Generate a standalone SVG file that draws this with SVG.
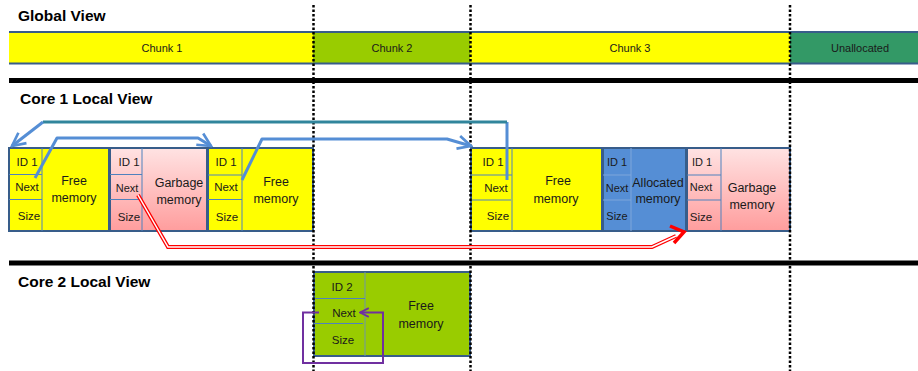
<svg xmlns="http://www.w3.org/2000/svg" width="918" height="371" viewBox="0 0 918 371">
<style>
.title{font-family:"Liberation Sans",Arial,sans-serif;font-weight:bold;font-size:15.5px;fill:#000}
.lbl{font-family:"Liberation Sans",Arial,sans-serif;font-size:11px;fill:#1a1a1a;text-anchor:middle}
.cell{font-family:"Liberation Sans",Arial,sans-serif;font-size:11.5px;fill:#1a1a1a;text-anchor:middle}
.big{font-family:"Liberation Sans",Arial,sans-serif;font-size:12.5px;fill:#1a1a1a;text-anchor:middle}
.outer{stroke:#385d8a;stroke-width:2}
.div{stroke:#4f81bd;stroke-width:1;fill:none}
.sep{stroke:#000;stroke-width:5}
.dot{stroke:#000;stroke-width:2.5;stroke-dasharray:2.5 2;fill:none}
.blue{stroke:#558ed5;stroke-width:3;fill:none}
</style>
<defs>
<linearGradient id="pink" x1="0" y1="0" x2="0" y2="1">
<stop offset="0" stop-color="#ffe3e3"/>
<stop offset="1" stop-color="#ff9d9d"/>
</linearGradient>
<marker id="ah" viewBox="0 0 10 10" refX="9" refY="5" markerWidth="5.5" markerHeight="5.5" markerUnits="strokeWidth" orient="auto">
<path d="M1,1 L9,5 L1,9" fill="none" stroke="#558ed5" stroke-width="1.6"/>
</marker>
<marker id="ap" viewBox="0 0 10 10" refX="9" refY="5" markerWidth="5.5" markerHeight="5.5" markerUnits="strokeWidth" orient="auto">
<path d="M1,1 L9,5 L1,9" fill="none" stroke="#7030a0" stroke-width="1.6"/>
</marker>
</defs>
<rect width="918" height="371" fill="#fff"/>

<g id="global">
<text class="title" x="18" y="21">Global View</text>
<rect x="9" y="32" width="304" height="31" fill="#ffff00"/>
<rect x="313" y="32" width="157" height="31" fill="#99cc00"/>
<rect x="470" y="32" width="320" height="31" fill="#ffff00"/>
<rect x="790" y="32" width="128" height="31" fill="#339966"/>
<line x1="9" y1="32" x2="918" y2="32" class="outer"/>
<line x1="9" y1="63.5" x2="918" y2="63.5" class="outer"/>
<text class="lbl" x="162" y="52">Chunk 1</text>
<text class="lbl" x="392" y="52">Chunk 2</text>
<text class="lbl" x="630" y="52">Chunk 3</text>
<text class="lbl" x="860" y="52">Unallocated</text>
</g>

<line x1="9" y1="80.5" x2="918" y2="80.5" class="sep"/>
<line x1="9" y1="263" x2="918" y2="263" class="sep"/>
<text class="title" x="20" y="104">Core 1 Local View</text>
<text class="title" x="18" y="287">Core 2 Local View</text>

<g id="block1">
<rect x="9" y="148" width="100" height="83" fill="#ffff00" class="outer"/>
<line x1="42" y1="148" x2="42" y2="231" class="div"/>
<line x1="9" y1="174.5" x2="42" y2="174.5" class="div"/>
<line x1="9" y1="199.5" x2="42" y2="199.5" class="div"/>
<text class="cell" x="27" y="166">ID 1</text>
<text class="cell" x="27" y="191">Next</text>
<text class="cell" x="29" y="220">Size</text>
<text class="big" x="74" y="185">Free</text>
<text class="big" x="74" y="202">memory</text>
</g>

<g id="block2">
<rect x="110" y="148" width="97" height="83" fill="url(#pink)" class="outer"/>
<line x1="142" y1="148" x2="142" y2="231" class="div"/>
<line x1="110" y1="174.5" x2="142" y2="174.5" class="div"/>
<line x1="110" y1="199.5" x2="142" y2="199.5" class="div"/>
<text class="cell" x="129" y="166">ID 1</text>
<text class="lbl" x="127" y="192">Next</text>
<text class="cell" x="129" y="221">Size</text>
<text class="big" x="179" y="187">Garbage</text>
<text class="big" x="179" y="204">memory</text>
</g>

<g id="block3">
<rect x="208" y="148" width="105" height="83" fill="#ffff00" class="outer"/>
<line x1="242" y1="148" x2="242" y2="231" class="div"/>
<line x1="208" y1="175" x2="242" y2="175" class="div"/>
<line x1="208" y1="199.5" x2="242" y2="199.5" class="div"/>
<text class="cell" x="226" y="166">ID 1</text>
<text class="cell" x="226" y="191">Next</text>
<text class="cell" x="227" y="221">Size</text>
<text class="big" x="276" y="186">Free</text>
<text class="big" x="276" y="203">memory</text>
</g>

<g id="block4">
<rect x="471" y="148" width="131" height="83" fill="#ffff00" class="outer"/>
<line x1="512" y1="148" x2="512" y2="231" class="div"/>
<line x1="471" y1="175" x2="512" y2="175" class="div"/>
<line x1="471" y1="200" x2="511" y2="200" class="div"/>
<text class="cell" x="493" y="166">ID 1</text>
<text class="cell" x="496" y="192">Next</text>
<text class="cell" x="498" y="220">Size</text>
<text class="big" x="558" y="185">Free</text>
<text class="big" x="556" y="203">memory</text>
</g>

<g id="block5">
<rect x="603" y="148" width="83" height="83" fill="#558ed5" class="outer"/>
<line x1="631" y1="148" x2="631" y2="231" class="div" style="stroke:#7ea6db"/>
<line x1="603" y1="175" x2="631" y2="175" class="div" style="stroke:#7ea6db"/>
<line x1="603" y1="200" x2="631" y2="200" class="div" style="stroke:#7ea6db"/>
<text class="lbl" x="617" y="166">ID 1</text>
<text class="lbl" x="617" y="192">Next</text>
<text class="lbl" x="617" y="220">Size</text>
<text class="big" x="658" y="187">Allocated</text>
<text class="big" x="658" y="203">memory</text>
</g>

<g id="block6">
<rect x="687" y="148" width="103" height="83" fill="url(#pink)" class="outer"/>
<line x1="721" y1="148" x2="721" y2="231" class="div"/>
<line x1="687" y1="175" x2="721" y2="175" class="div"/>
<line x1="687" y1="200" x2="721" y2="200" class="div"/>
<text class="lbl" x="702" y="166">ID 1</text>
<text class="lbl" x="701" y="191">Next</text>
<text class="cell" x="701" y="221">Size</text>
<text class="big" x="752" y="192">Garbage</text>
<text class="big" x="752" y="209">memory</text>
</g>

<g id="block7">
<rect x="314" y="272" width="156" height="84" fill="#99cc00" class="outer"/>
<line x1="365" y1="272" x2="365" y2="356" class="div" style="stroke:#6f96a8"/>
<line x1="314" y1="298.5" x2="365" y2="298.5" class="div"/>
<line x1="314" y1="323.5" x2="363" y2="323.5" class="div"/>
<text class="cell" x="342" y="291">ID 2</text>
<text class="cell" x="344" y="317">Next</text>
<text class="cell" x="343" y="344">Size</text>
<text class="big" x="421" y="310">Free</text>
<text class="big" x="421" y="328">memory</text>
</g>

<g id="dotted">
<line x1="313.5" y1="5" x2="313.5" y2="371" class="dot"/>
<line x1="470.5" y1="5" x2="470.5" y2="371" class="dot"/>
<line x1="790" y1="5" x2="790" y2="371" class="dot"/>
</g>

<g id="connectors">
<path d="M507,180 L507,122" class="blue"/>
<path d="M507,122 L43,122" fill="none" stroke="#31859c" stroke-width="3"/>
<path d="M43,122 L12,146" class="blue" marker-end="url(#ah)"/>
<path d="M35,178 L57,138 L198,138 L211,146" class="blue" stroke-linejoin="round" marker-end="url(#ah)"/>
<path d="M242,180 L262,139 L447,139 L471,146" class="blue" stroke-linejoin="round" marker-end="url(#ah)"/>
<path d="M138,195 L168,247 L652,247 L676,236" fill="none" stroke="#ff0000" stroke-width="4"/>
<path d="M138,195 L168,247 L652,247 L676,236" fill="none" stroke="#ffffff" stroke-width="1.5"/>
<path d="M670,226 L684,232 L674,243" fill="none" stroke="#ff0000" stroke-width="3.5" stroke-linejoin="miter"/>
<path d="M319,312.5 L303,312.5 L303,363 L383,363 L383,312.5 L360,312.5" fill="none" stroke="#7030a0" stroke-width="2" marker-end="url(#ap)"/>
</g>
</svg>
